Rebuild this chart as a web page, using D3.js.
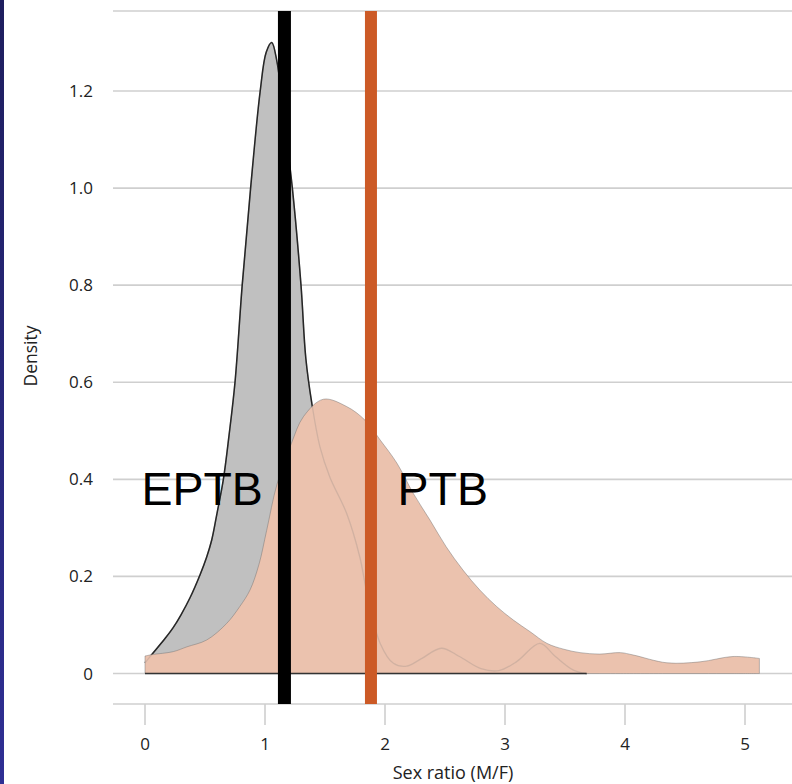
<!DOCTYPE html>
<html>
<head>
<meta charset="utf-8">
<script src="https://cdn.jsdelivr.net/npm/d3@7/dist/d3.min.js"></script>
<style>
  html, body { margin: 0; padding: 0; background: #fff; }
  svg { display: block; }
  .tick-label, .axis-title { font-family: "Open Sans", sans-serif; fill: #222; }
  .group-label { font-family: "Liberation Sans", Arial, sans-serif; fill: #000; }
</style>
</head>
<body>
<div id="chart"></div>
<script>
// EPTB density curve (sex ratio, density)
const eptbX = [0, 0.06, 0.17, 0.236, 0.3, 0.375, 0.458, 0.514, 0.556, 0.6, 0.653, 0.7, 0.75, 0.81, 0.88, 0.96,
  1.01, 1.056, 1.1, 1.16, 1.228, 1.3, 1.34, 1.39, 1.458, 1.54, 1.68, 1.79, 1.85, 1.96, 2.07, 2.18, 2.3, 2.47,
  2.62, 2.8, 2.95, 3.1, 3.29, 3.42, 3.57, 3.68];
const eptbDensity = [0.022, 0.04, 0.073, 0.095, 0.121, 0.156, 0.203, 0.24, 0.275, 0.33, 0.4, 0.49, 0.6, 0.8, 1.0,
  1.2, 1.28, 1.3, 1.26, 1.14, 1.0, 0.8, 0.65, 0.557, 0.467, 0.405, 0.33, 0.24, 0.165, 0.062, 0.021, 0.015, 0.03,
  0.052, 0.035, 0.01, 0.006, 0.025, 0.062, 0.035, 0.007, 0];

// PTB density curve
const ptbX = [0, 0.06, 0.235, 0.35, 0.514, 0.68, 0.79, 0.875, 0.95, 1.014, 1.1, 1.22, 1.32, 1.486, 1.68, 1.833,
  1.96, 2.1, 2.236, 2.375, 2.51, 2.65, 2.79, 2.93, 3.07, 3.21, 3.35, 3.49, 3.625, 3.79, 3.96, 4.07, 4.35, 4.625,
  4.9, 5.12];
const ptbDensity = [0.036, 0.039, 0.045, 0.055, 0.069, 0.103, 0.138, 0.172, 0.225, 0.295, 0.39, 0.474, 0.529,
  0.565, 0.55, 0.522, 0.481, 0.433, 0.371, 0.316, 0.261, 0.213, 0.172, 0.138, 0.11, 0.086, 0.062, 0.05, 0.043,
  0.04, 0.043, 0.038, 0.022, 0.024, 0.035, 0.031];

// mean sex ratio of each group
const meanGroups = ["EPTB", "PTB"];
const meanValues = [1.162, 1.883];

// annotation labels (x = start of text, y = baseline, in data units)
const labelText = ["EPTB", "PTB"];
const labelX = [-0.03, 2.105];
const labelY = [0.347, 0.347];

const xTicks = [0, 1, 2, 3, 4, 5];
const yTicks = [0, 0.2, 0.4, 0.6, 0.8, 1.0, 1.2];
const yTickLabels = ["0", "0.2", "0.4", "0.6", "0.8", "1.0", "1.2"];

const width = 792;
const height = 784;
const panel = { left: 113, right: 792, top: 11, bottom: 704 };

const x = d3.scaleLinear().domain([0, 5]).range([145, 745]);
const y = d3.scaleLinear().domain([0, 1.2]).range([673.5, 91]);

const svg = d3.select("#chart")
  .append("svg")
  .attr("width", width)
  .attr("height", height);

// navy strip on the left edge
const grad = svg.append("defs").append("linearGradient")
  .attr("id", "edge").attr("x1", 0).attr("y1", 0).attr("x2", 0).attr("y2", 1);
grad.append("stop").attr("offset", "0%").attr("stop-color", "#1e1e5e");
grad.append("stop").attr("offset", "100%").attr("stop-color", "#2f2f94");
svg.append("rect").attr("x", 0).attr("y", 0).attr("width", 4).attr("height", height).attr("fill", "url(#edge)");

// gridlines + frame
svg.append("g")
  .selectAll("line")
  .data(yTicks)
  .join("line")
  .attr("x1", panel.left)
  .attr("x2", panel.right)
  .attr("y1", (d) => y(d))
  .attr("y2", (d) => y(d))
  .attr("stroke", "#cfcfcf")
  .attr("stroke-width", 1.6);

svg.append("g")
  .selectAll("line")
  .data([panel.top, panel.bottom])
  .join("line")
  .attr("x1", panel.left)
  .attr("x2", panel.right)
  .attr("y1", (d) => d)
  .attr("y2", (d) => d)
  .attr("stroke", "#cfcfcf")
  .attr("stroke-width", 1.6);

// x ticks
svg.append("g")
  .selectAll("line")
  .data(xTicks)
  .join("line")
  .attr("x1", (d) => x(d))
  .attr("x2", (d) => x(d))
  .attr("y1", panel.bottom)
  .attr("y2", panel.bottom + 21)
  .attr("stroke", "#cfcfcf")
  .attr("stroke-width", 1.6);

svg.append("g")
  .selectAll("text")
  .data(xTicks)
  .join("text")
  .attr("class", "tick-label")
  .attr("x", (d) => x(d))
  .attr("y", 750)
  .attr("text-anchor", "middle")
  .attr("font-size", 17)
  .text((d) => d);

svg.append("g")
  .selectAll("text")
  .data(yTicks)
  .join("text")
  .attr("class", "tick-label")
  .attr("x", 93)
  .attr("y", (d) => y(d) + 6)
  .attr("text-anchor", "end")
  .attr("font-size", 17)
  .text((d, i) => yTickLabels[i]);

svg.append("text")
  .attr("class", "axis-title")
  .attr("x", 453)
  .attr("y", 779)
  .attr("text-anchor", "middle")
  .attr("font-size", 18)
  .text("Sex ratio (M/F)");

svg.append("text")
  .attr("class", "axis-title")
  .attr("transform", "translate(37,356) rotate(-90)")
  .attr("text-anchor", "middle")
  .attr("font-size", 17.5)
  .text("Density");

// density areas
const eptb = eptbX.map((v, i) => [v, eptbDensity[i]]);
const ptb = ptbX.map((v, i) => [v, ptbDensity[i]]);

const curve = d3.curveCatmullRom.alpha(0.5);

const area = d3.area()
  .x((d) => x(d[0]))
  .y0(y(0))
  .y1((d) => y(d[1]))
  .curve(curve);

const line = d3.line()
  .x((d) => x(d[0]))
  .y((d) => y(d[1]))
  .curve(curve);

svg.append("path")
  .attr("d", area(eptb))
  .attr("fill", "#c0c0c0");

svg.append("path")
  .attr("d", line(eptb))
  .attr("fill", "none")
  .attr("stroke", "#111")
  .attr("stroke-width", 1.5);

svg.append("path")
  .attr("d", area(ptb))
  .attr("fill", "#ebc2ae")
  .attr("stroke", "rgba(110,110,110,0.45)")
  .attr("stroke-width", 1);

// EPTB outline shows faintly through the PTB fill
svg.append("path")
  .attr("d", line(eptb))
  .attr("fill", "none")
  .attr("stroke", "rgba(120,120,120,0.22)")
  .attr("stroke-width", 1.3);

// EPTB baseline
svg.append("line")
  .attr("x1", x(0))
  .attr("x2", x(d3.max(eptbX)))
  .attr("y1", y(0))
  .attr("y2", y(0))
  .attr("stroke", "#333")
  .attr("stroke-width", 1.4);

// mean lines
const meanColor = d3.scaleOrdinal().domain(meanGroups).range(["#000000", "#cc5a26"]);
const meanWidth = d3.scaleOrdinal().domain(meanGroups).range([13, 12]);

svg.append("g")
  .selectAll("line")
  .data(meanValues)
  .join("line")
  .attr("x1", (d) => x(d))
  .attr("x2", (d) => x(d))
  .attr("y1", panel.top)
  .attr("y2", panel.bottom)
  .attr("stroke", (d, i) => meanColor(meanGroups[i]))
  .attr("stroke-width", (d, i) => meanWidth(meanGroups[i]));

// group labels
svg.append("g")
  .selectAll("text")
  .data(labelText)
  .join("text")
  .attr("class", "group-label")
  .attr("x", (d, i) => x(labelX[i]))
  .attr("y", (d, i) => y(labelY[i]))
  .attr("font-size", 46.5)
  .text((d) => d);
</script>
</body>
</html>
